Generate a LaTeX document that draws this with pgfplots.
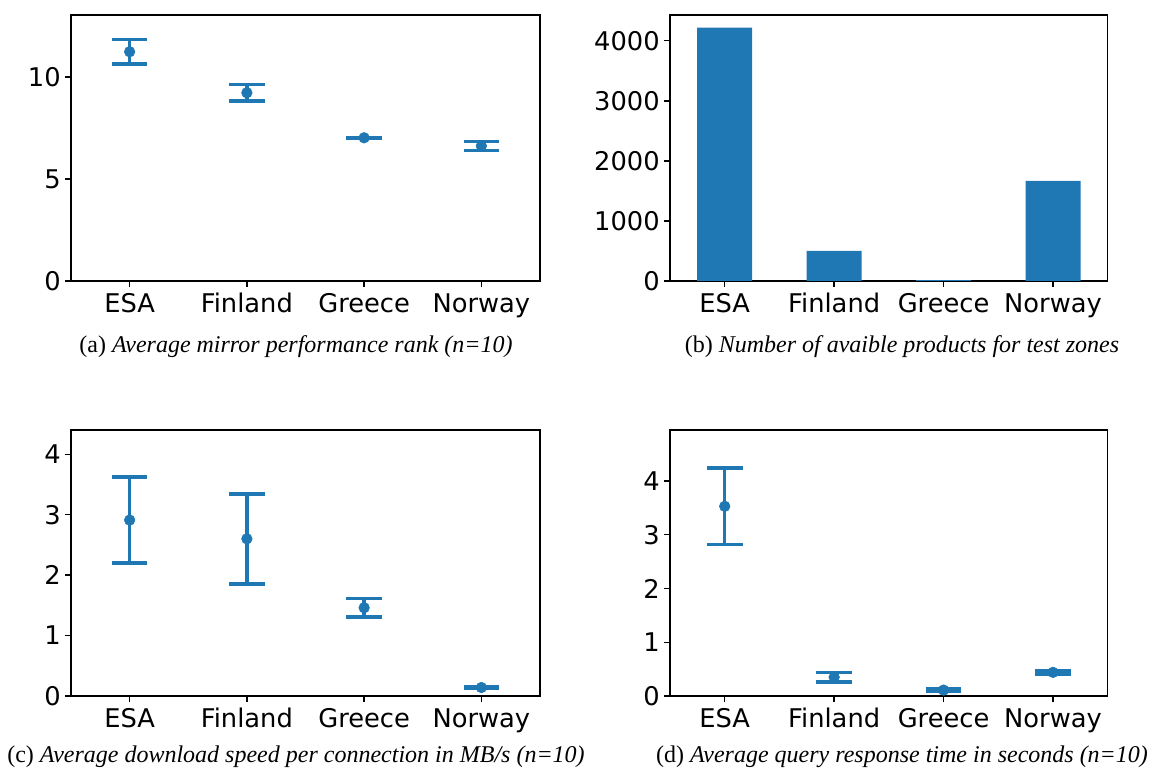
\documentclass[border=0pt]{standalone}
\usepackage{fontspec}
\setmainfont{DejaVu Sans}
\newfontfamily\capfont{Liberation Serif}
\usepackage{pgfplots}
\pgfplotsset{compat=1.18}
\definecolor{mplblue}{HTML}{1F77B4}
\pgfplotsset{
  panel/.style={
    scale only axis,
    anchor=south west,
    xmin=-0.5, xmax=3.5,
    xtick={0,1,2,3},
    xticklabels={ESA,Finland,Greece,Norway},
    tick align=outside,
    xtick pos=bottom, ytick pos=left,
    major tick length=4.5pt,
    axis line style={line width=1pt},
    every tick/.style={black, line width=1pt},
    tick label style={font=\fontsize{19.3}{22}\selectfont, inner sep=0pt},
    xticklabel style={yshift=-4.5pt},
    yticklabel style={xshift=-3pt},
    /pgf/number format/assume math mode=true,
    scaled y ticks=false,
    clip=false,
  },
  eb/.style={only marks, mplblue, mark=*, mark size=4pt,
    error bars/.cd, y dir=both, y explicit, error mark=|,
    error bar style={line width=2.6pt, mplblue},
    error mark options={mplblue, line width=2.6pt, mark size=13.4pt}},
}
\begin{document}
\begin{tikzpicture}
\path[use as bounding box] (0,0) rectangle (862.5pt,576.75pt);
% (a)
\begin{axis}[panel, at={(53.25pt,366pt)}, width=351.75pt, height=199.5pt,
  ymin=0, ymax=13.04, ytick={0,5,10}]
\addplot[eb] coordinates {
 (0,11.24) +- (0,0.60)
 (1,9.23) +- (0,0.40)
 (2,7.02) +- (0,0.02)
 (3,6.62) +- (0,0.21)
};
\end{axis}
% (b)
\begin{axis}[panel, at={(502.5pt,366pt)}, width=328.3pt, height=199.5pt,
  ymin=0, ymax=4430, ytick={0,1000,2000,3000,4000},
  /pgf/number format/set thousands separator={}]
\addplot[ybar, bar width=41.25pt, bar shift=0pt, fill=mplblue, draw=none] coordinates {
 (0,4218) (1,501) (2,15) (3,1669)
};
\end{axis}
% (c)
\begin{axis}[panel, at={(53.25pt,54.75pt)}, width=351.75pt, height=199.5pt,
  ymin=0, ymax=4.40, ytick={0,1,2,3,4}]
\addplot[eb] coordinates {
 (0,2.91) +- (0,0.71)
 (1,2.60) +- (0,0.745)
 (2,1.46) +- (0,0.15)
 (3,0.14) +- (0,0.01)
};
\end{axis}
% (d)
\begin{axis}[panel, at={(502.5pt,54.75pt)}, width=328.3pt, height=199.5pt,
  ymin=0, ymax=4.95, ytick={0,1,2,3,4}]
\addplot[eb] coordinates {
 (0,3.53) +- (0,0.71)
 (1,0.35) +- (0,0.09)
 (2,0.11) +- (0,0.02)
 (3,0.44) +- (0,0.03)
};
\end{axis}
\node[font=\capfont\fontsize{18}{21}\selectfont] at (222pt,316.5pt) {(a) \textit{Average mirror performance rank (n=10)}};
\node[font=\capfont\fontsize{18}{21}\selectfont] at (676.5pt,316.5pt) {(b) \textit{Number of avaible products for test zones}};
\node[font=\capfont\fontsize{18}{21}\selectfont] at (222pt,9pt) {(c) \textit{Average download speed per connection in MB/s (n=10)}};
\node[font=\capfont\fontsize{18}{21}\selectfont] at (676.5pt,9pt) {(d) \textit{Average query response time in seconds (n=10)}};
\end{tikzpicture}
\end{document}
